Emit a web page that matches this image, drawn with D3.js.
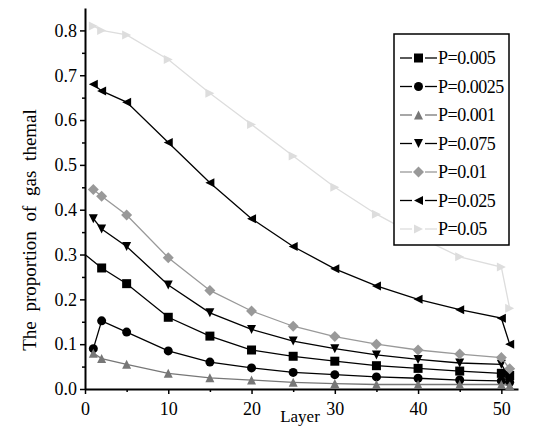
<!DOCTYPE html><html><head><script src="https://d3js.org/d3.v7.min.js"></script>
<style>body{margin:0;background:#fff} svg text{font-family:'Liberation Serif','DejaVu Serif',serif !important}</style></head><body><svg id="c" width="548" height="443"></svg>
<script>
const xs=[1,2,5,10,15,20,25,30,35,40,45,50,51];
const labels=["P=0.005","P=0.0025","P=0.001","P=0.075","P=0.01","P=0.025","P=0.05"];
const s005=[0.285,0.27,0.235,0.16,0.118,0.087,0.073,0.062,0.052,0.046,0.04,0.035,0.03];
const s0025=[0.09,0.152,0.127,0.085,0.06,0.047,0.037,0.032,0.027,0.024,0.02,0.018,0.015];
const s001=[0.08,0.068,0.055,0.035,0.025,0.02,0.015,0.012,0.01,0.01,0.01,0.01,0.008];
const s075=[0.38,0.357,0.318,0.232,0.17,0.133,0.107,0.09,0.076,0.066,0.058,0.055,0.025];
const s01=[0.445,0.43,0.388,0.293,0.22,0.174,0.14,0.117,0.1,0.087,0.078,0.07,0.045];
const s025=[0.68,0.665,0.64,0.55,0.46,0.38,0.318,0.268,0.23,0.2,0.177,0.158,0.1];
const s05=[0.81,0.8,0.79,0.735,0.66,0.59,0.52,0.45,0.39,0.34,0.295,0.272,0.18];
const series=[s005,s0025,s001,s075,s01,s025,s05];
const colors=["#000","#000","#777","#000","#999","#000","#ddd"];
const syms=["square","circle","tri","down","diamond","left","right"];
const svg=d3.select("#c");
const x=d3.scaleLinear().domain([0,52]).range([85,518]);
const y=d3.scaleLinear().domain([0,0.85]).range([389,8]);
const xa=svg.append("g").attr("transform","translate(0,389)").call(d3.axisBottom(x).tickValues([0,10,20,30,40,50]).tickFormat(d3.format("d")).tickSize(5).tickSizeOuter(0));
const ya=svg.append("g").attr("transform","translate(85,0)").call(d3.axisLeft(y).tickValues(d3.range(0,0.81,0.1)).tickFormat(d3.format(".1f")).tickSize(5).tickSizeOuter(0));
svg.append("g").attr("transform","translate(85,0)").call(d3.axisLeft(y).tickValues(d3.range(0.05,0.85,0.1)).tickFormat("").tickSize(3).tickSizeOuter(0)).select(".domain").remove();
svg.append("g").attr("transform","translate(0,389)").call(d3.axisBottom(x).tickValues([5,15,25,35,45]).tickFormat("").tickSize(3).tickSizeOuter(0)).select(".domain").remove();
[xa,ya].forEach(a=>{a.selectAll("text").style("font-size","18px").attr("fill","#000");a.select(".domain").attr("stroke-width",2);});
xa.selectAll("text").attr("dy","1em");
svg.selectAll(".tick line").attr("stroke-width",1.5);
svg.append("text").attr("x",300).attr("y",444-22).attr("text-anchor","middle").style("font-size","17px").text("Layer");
svg.append("text").attr("transform","translate(36,230) rotate(-90)").attr("text-anchor","middle").style("font-size","19px").style("word-spacing","5px").text("The proportion of gas themal");
function sym(g,t,cx,cy,c){
 const r=4.5;let p;
 if(t=="square")p=`M${cx-r},${cy-r}h${2*r}v${2*r}h${-2*r}z`;
 if(t=="circle"){g.append("circle").attr("cx",cx).attr("cy",cy).attr("r",r).attr("fill",c);return;}
 if(t=="tri")p=`M${cx},${cy-r}L${cx+r},${cy+r}L${cx-r},${cy+r}z`;
 if(t=="down")p=`M${cx},${cy+r}L${cx+r},${cy-r}L${cx-r},${cy-r}z`;
 if(t=="diamond")p=`M${cx},${cy-r-1}L${cx+r+1},${cy}L${cx},${cy+r+1}L${cx-r-1},${cy}z`;
 if(t=="left")p=`M${cx-r},${cy}L${cx+r},${cy-r}L${cx+r},${cy+r}z`;
 if(t=="right")p=`M${cx+r},${cy}L${cx-r},${cy-r}L${cx-r},${cy+r}z`;
 g.append("path").attr("d",p).attr("fill",c);
}
const line=d3.line().x(d=>x(d[0])).y(d=>y(d[1]));
series.forEach((s,i)=>{
 let pts=xs.map((v,j)=>[v,s[j]]);
 if(i==0)pts=[[0,0.3],...pts.slice(1)];
 svg.append("path").attr("d",line(pts)).attr("fill","none").attr("stroke",colors[i]).attr("stroke-width",1.3);
 const g=svg.append("g");
 pts.forEach(p=>{ if(!(i==0&&p[0]==0)) sym(g,syms[i],x(p[0]),y(p[1]),colors[i]);});
});
const lg=svg.append("g");
lg.append("rect").attr("x",394).attr("y",34).attr("width",115).attr("height",211).attr("fill","#fff").attr("stroke","#000").attr("stroke-width",1.5);
labels.forEach((l,i)=>{
 const yy=58+i*28.5;
 [[400,412],[425,437]].forEach(([a,b])=>lg.append("line").attr("x1",a).attr("x2",b).attr("y1",yy).attr("y2",yy).attr("stroke",colors[i]).attr("stroke-width",1.3));
 sym(lg,syms[i],418.5,yy,colors[i]);
 lg.append("text").attr("x",438).attr("y",yy+6).style("font-size","18px").style("letter-spacing","-0.5px").text(l);
});
</script></body></html>
